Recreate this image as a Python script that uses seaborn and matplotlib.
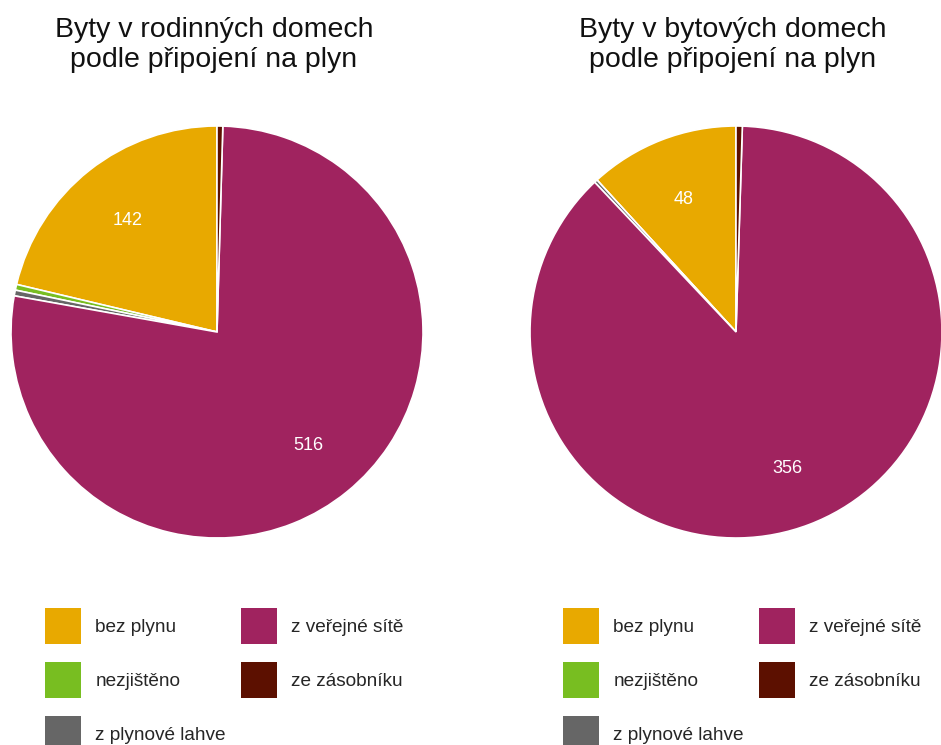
import matplotlib
matplotlib.use("Agg")
import matplotlib.pyplot as plt
import numpy as np
import seaborn as sns

# Categories (alphabetical), shared by both pies
categories = ["bez plynu", "nezjištěno", "z plynové lahve", "z veřejné sítě", "ze zásobníku"]
colors = ["#E8A900", "#78BE21", "#666666", "#A0235F", "#5C1000"]

# Dwellings by gas connection
family_houses = [142, 3, 3, 516, 3]
apartment_houses = [48, 0, 1, 356, 2]

titles = [
    "Byty v rodinných domech\npodle připojení na plyn",
    "Byty v bytových domech\npodle připojení na plyn",
]

sns.set_theme(style="white")
plt.rcParams["font.family"] = ["Liberation Sans", "DejaVu Sans"]

W, H = 941, 745
fig = plt.figure(figsize=(W / 100, H / 100), dpi=100)


def px_axes(cx, cy, r):
    return fig.add_axes([(cx - r) / W, (H - cy - r) / H, 2 * r / W, 2 * r / H])


layouts = [
    dict(cx=217, cy=332, r=206, tx=214, lx=45),
    dict(cx=736, cy=332, r=206, tx=733, lx=563),
]

for values, title, lay in zip([family_houses, apartment_houses], titles, layouts):
    ax = px_axes(lay["cx"], lay["cy"], lay["r"])
    total = sum(values)
    wedges, _ = ax.pie(
        values,
        colors=colors,
        startangle=90,
        counterclock=True,
        radius=1.0,
        wedgeprops=dict(edgecolor="white", linewidth=1.2),
    )
    # value labels on the large slices
    for w, v in zip(wedges, values):
        if v / total < 0.05:
            continue
        ang = np.deg2rad((w.theta1 + w.theta2) / 2)
        ax.text(0.7 * np.cos(ang), 0.7 * np.sin(ang) - 0.01, f"{v}",
                ha="center", va="center", color="white", fontsize=13)
    ax.set_xlim(-1.0, 1.0)
    ax.set_ylim(-1.0, 1.0)
    ax.set_aspect("equal")
    ax.axis("off")

    fig.text(lay["tx"] / W, 1 - 45 / H, title, ha="center", va="center",
             fontsize=20.5, linespacing=1.2, color="#111111")

    handles = [plt.Rectangle((0, 0), 1, 1, facecolor=c, edgecolor="none") for c in colors]
    fig.legend(
        handles, categories,
        loc="upper left",
        bbox_to_anchor=(lay["lx"] / W, 1 - 608 / H),
        ncol=2,
        frameon=False,
        fontsize=13.7,
        handlelength=1.9,
        handleheight=2.54,
        handletextpad=0.74,
        labelspacing=0.95,
        columnspacing=0.8,
        borderpad=0,
        borderaxespad=0,
    )

fig.savefig("out.png", dpi=100, facecolor="white")
